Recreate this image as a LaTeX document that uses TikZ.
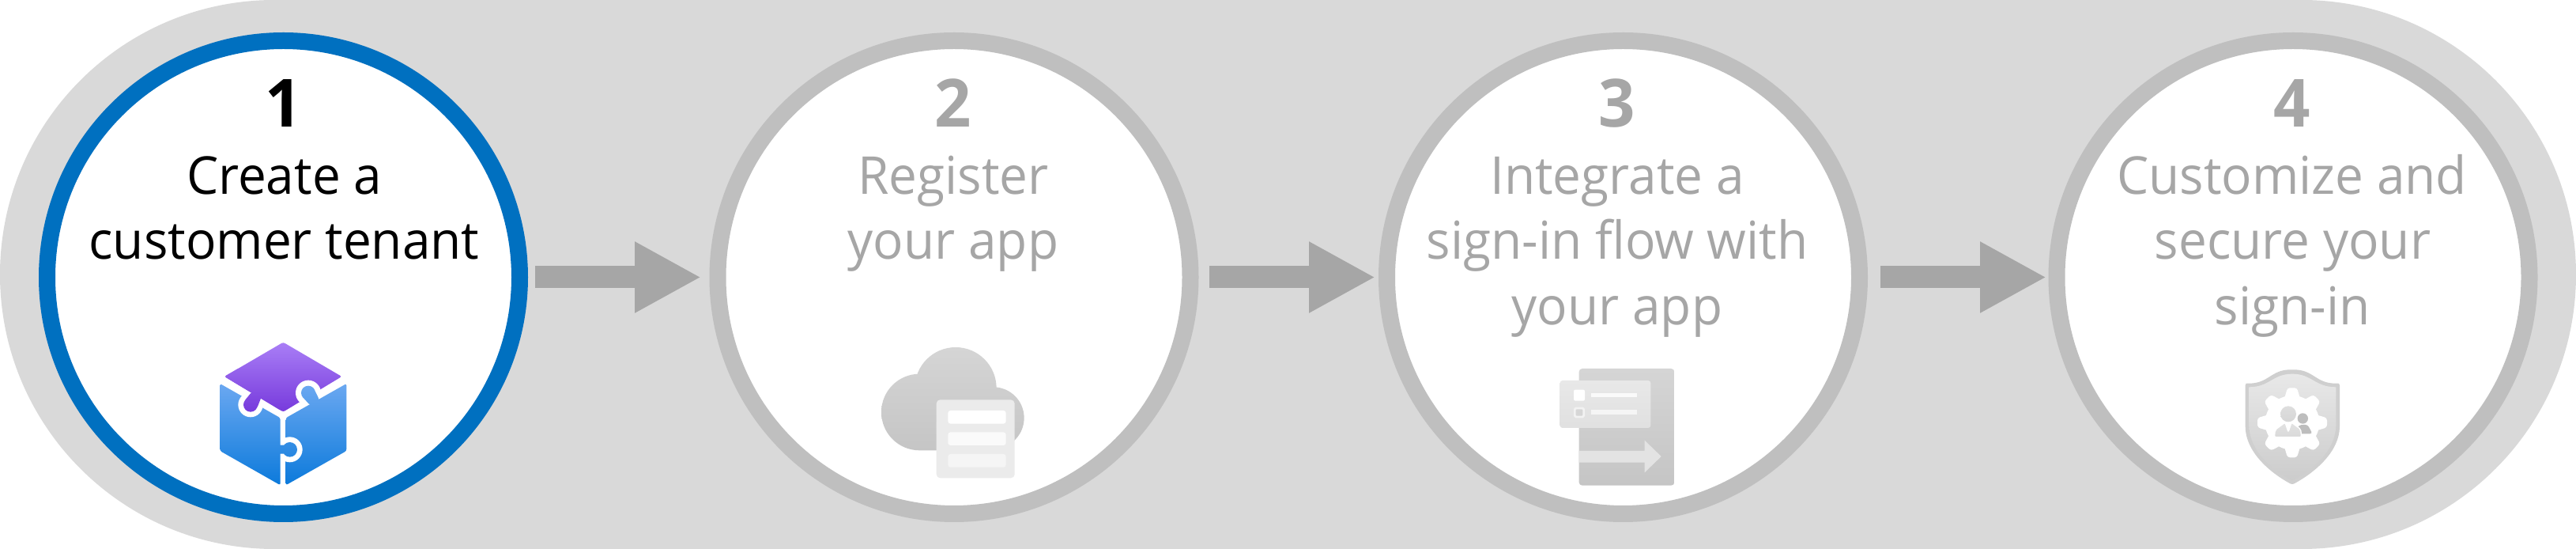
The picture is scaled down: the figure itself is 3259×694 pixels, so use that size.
\documentclass[tikz,border=0pt]{standalone}
\usepackage{fontspec}
\setmainfont{Open Sans}[FakeStretch=0.968]
\usetikzlibrary{arrows.meta}
\definecolor{bandgray}{HTML}{D9D9D9}
\definecolor{ringblue}{HTML}{0070C0}
\definecolor{ringgray}{HTML}{BFBFBF}
\definecolor{textgray}{HTML}{A6A6A6}
\definecolor{cubeblueA}{HTML}{6BA8F1}
\definecolor{cubeblueB}{HTML}{0C7ADB}
\definecolor{cubepurA}{HTML}{A97EF6}
\definecolor{cubepurB}{HTML}{773ADC}
\definecolor{iconA}{HTML}{D5D5D5}
\definecolor{iconB}{HTML}{C5C5C5}
\tikzset{
  stepring/.style={circle,fill=white,draw=#1,line width=5.25pt,minimum size=149.5pt,inner sep=0pt,outer sep=0pt},
  stepnum/.style={anchor=base,inner sep=0pt,font=\fontsize{21}{21}\selectfont\bfseries,text=#1},
  steptext/.style={anchor=base,inner sep=0pt,font=\fontsize{16.5}{20.5}\selectfont,text=#1},
  flow/.style={draw=textgray,line width=7pt,-{Triangle[length=21pt,width=21pt,fill=textgray]}},
  zoomed/.style={x=0.083333pt,y=-0.083333pt},
  purpleshade/.style={top color=cubepurA,bottom color=cubepurB,rounded corners=0.6pt},
  blueshade/.style={top color=cubeblueA,bottom color=cubeblueB,rounded corners=0.6pt},
}
\begin{document}
\begin{tikzpicture}[x=0.25pt,y=-0.25pt]
\useasboundingbox (0,0) rectangle (3259,694);
\fill[bandgray,rounded corners=86.75pt] (0,0) rectangle (3259,694);
\node[stepring=ringblue] (c1) at (358.5,350.5) {};
\node[stepring=ringgray] (c2) at (1207,350.5) {};
\node[stepring=ringgray] (c3) at (2053.5,350.5) {};
\node[stepring=ringgray] (c4) at (2901,350.5) {};
\draw[flow,shorten <=4.875pt,shorten >=5.25pt] (c1) -- (c2);
\draw[flow,shorten <=6pt,shorten >=3.625pt] (c2) -- (c3);
\draw[flow,shorten <=6.625pt,shorten >=3.25pt] (c3) -- (c4);
\node[stepnum=black] (n1) at (359,160.5) {1};
\node[stepnum=textgray] (n2) at (1206,160.5) {2};
\node[stepnum=textgray] (n3) at (2046,160.5) {3};
\node[stepnum=textgray] (n4) at (2900,160.5) {4};
\node[steptext=black] (t1a) at (359.5,246) {Create a};
\node[steptext=black] (t1b) at (359.5,328) {customer tenant};
\node[steptext=textgray] (t2a) at (1206,246) {Register};
\node[steptext=textgray] (t2b) at (1206,328) {your app};
\node[steptext=textgray] (t3a) at (2046,246) {Integrate a};
\node[steptext=textgray] (t3b) at (2046,328) {sign-in flow with};
\node[steptext=textgray] (t3c) at (2046,411) {your app};
\node[steptext=textgray] (t4a) at (2899.5,246) {Customize and};
\node[steptext=textgray] (t4b) at (2900.5,328) {secure your};
\node[steptext=textgray] (t4c) at (2900,411) {sign-in};
% icon 1: puzzle cube
\begin{scope}[shift={(220,400)},zoomed]
\def\toppiece{(415,98) -- (637,228) -- (415,362) -- (192,228) -- cycle
  (291,335) circle[radius=27]
  (296,286) -- (332,306) -- (315,349) -- (267,321) -- cycle}
\shade[purpleshade] \toppiece;
\fill[white] (510,290) circle[radius=48];
\shade[blueshade]
  (655,255) -- (655,510) -- (425,640) -- (425,385) -- cycle
  (510,290) circle[radius=27]
  (488,305) -- (532,275) -- (552,316) -- (516,336) -- cycle;
\fill[white] (440,505) circle[radius=48];
\shade[blueshade]
  (175,255) -- (404,385) -- (404,640) -- (175,510) -- cycle
  (440,505) circle[radius=28]
  (395,488) -- (425,488) -- (425,521) -- (395,521) -- cycle;
\fill[white] (291,335) circle[radius=47];
\begin{scope}
\clip (190,200) rectangle (400,400);
\shade[purpleshade] \toppiece;
\end{scope}
\end{scope}
% icon 2: cloud with list
\begin{scope}[shift={(1080,410)},zoomed]
\shade[top color=iconA,bottom color=iconB]
  (387,242) circle[radius=155]
  (250,333) circle[radius=145]
  (530,355) circle[radius=117]
  (530,300) rectangle (250,478);
\fill[fill=black!8,rounded corners=1.2pt] (314,286) rectangle (611,583);
\fill[white,rounded corners=0.8pt] (358,327) rectangle (578,377);
\fill[black!2,rounded corners=0.8pt] (358,409) rectangle (578,459);
\fill[black!4,rounded corners=0.8pt] (358,492) rectangle (578,542);
\end{scope}
% icon 3: form with arrow
\begin{scope}[shift={(1930,440)},zoomed]
\shade[top color=iconA,bottom color=iconB,rounded corners=1pt] (203,78) rectangle (565,521);
\shade[top color=black!9,bottom color=black!12,rounded corners=0.8pt] (131,123) rectangle (475,303);
\fill[white,rounded corners=0.5pt] (183,158) rectangle (225,200);
\fill[black!16,draw=black!5,line width=0.7pt,rounded corners=0.4pt] (187,228) rectangle (221,261);
\fill[black!2] (248,171) rectangle (423,187);
\fill[black!4] (248,235) rectangle (423,251);
\fill[black!11] (203,390) -- (452,390) -- (452,350) -- (515,411) -- (452,472) -- (452,434) -- (203,434) -- cycle;
\end{scope}
% icon 4: shield with gear and people
\begin{scope}[shift={(2780,440)},zoomed]
\fill[black!19,rounded corners=0.6pt]
  (540,134) -- (540,290)
  .. controls (540,390) and (450,470) .. (360,518)
  .. controls (270,470) and (182,390) .. (182,290)
  -- (182,134) -- (190,134)
  .. controls (270,134) and (280,82) .. (360,82)
  .. controls (440,82) and (450,134) .. (530,134) -- cycle;
\shade[top color=black!9,bottom color=black!20]
  (526,148) -- (526,290)
  .. controls (526,385) and (445,458) .. (360,502)
  .. controls (275,458) and (196,385) .. (196,290)
  -- (196,148)
  .. controls (275,148) and (285,98) .. (360,98)
  .. controls (435,98) and (445,148) .. (526,148) -- cycle;
\fill[white] (360,283) circle[radius=103];
\foreach \a in {0,45,...,315}{
  \fill[white,rotate around={\a:(360,283)},rounded corners=0.8pt]
    (326,205) -- (342,151) -- (378,151) -- (394,205) -- cycle;
}
\fill[black!26] (400,267) circle[radius=20];
\fill[black!26,rounded corners=0.8pt] (372,325) -- (385,292) -- (418,290) -- (437,325) -- cycle;
\shade[top color=black!13,bottom color=black!16] (345,250) circle[radius=30];
\shade[top color=black!11,bottom color=black!15,rounded corners=0.5pt,draw=white,line width=0.35pt]
  (292,338) -- (295,310) -- (333,282) -- (345,318) -- (357,282) -- (392,308) -- (395,338) -- cycle;
\end{scope}
\end{tikzpicture}
\end{document}
